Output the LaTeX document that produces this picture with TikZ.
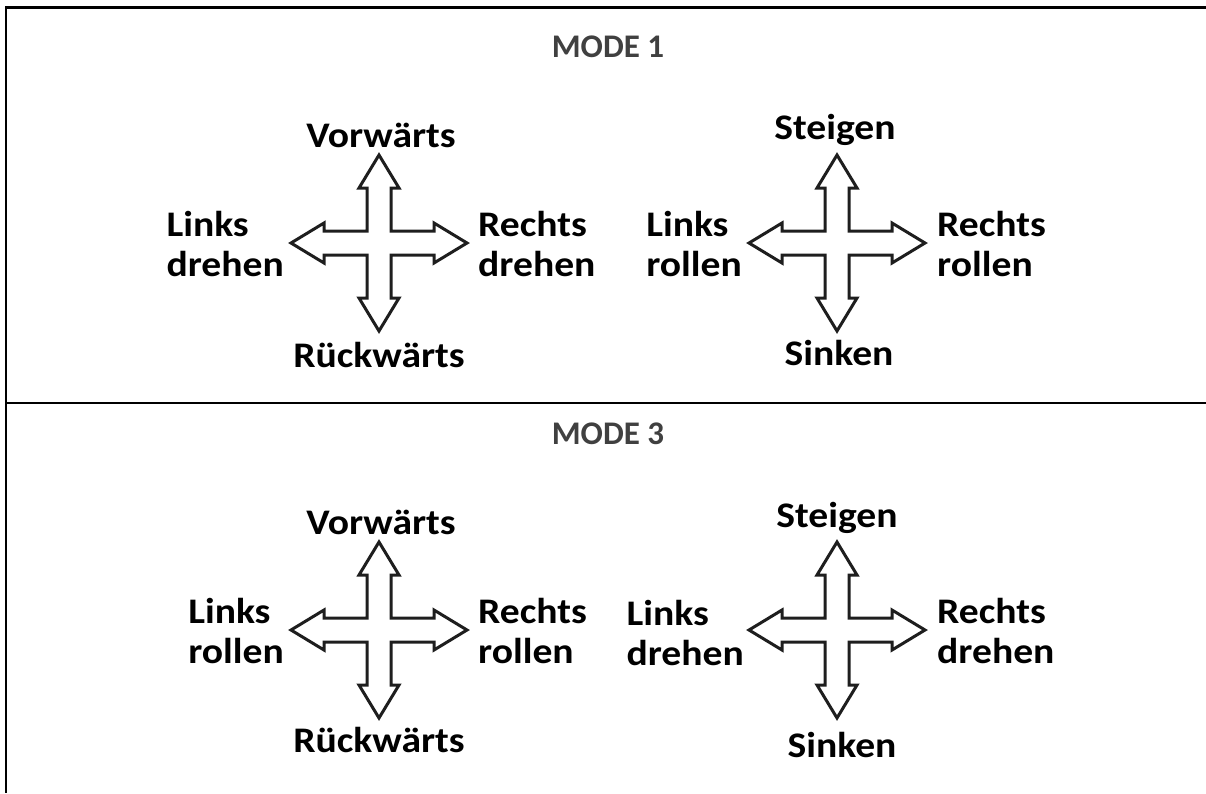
\documentclass[tikz,border=0pt]{standalone}
\usepackage{fontspec}
\setmainfont{Carlito}
\newfontfamily\labelfont[FakeStretch=1.1]{Carlito}
\usepackage{xcolor}

\definecolor{modegray}{HTML}{404040}
\definecolor{arrowink}{HTML}{1E1E1E}

\tikzset{
	frameline/.style={line width=2.2pt, black},
	modetitle/.style={inner sep=0pt, anchor=base, text=modegray, font=\fontsize{33}{38}\selectfont\bfseries},
	dirlabel/.style={inner sep=0pt, align=left, font=\labelfont\fontsize{36}{40}\selectfont\bfseries},
	crossarrow/.pic={
		\draw[line width=3pt, arrowink, line join=miter, fill=white]
			(0,-88) -- (20,-55) -- (12,-55) -- (12,-12) -- (55,-12) -- (55,-20) -- (88,0)
			-- (55,20) -- (55,12) -- (12,12) -- (12,55) -- (20,55) -- (0,88)
			-- (-20,55) -- (-12,55) -- (-12,12) -- (-55,12) -- (-55,20) -- (-88,0)
			-- (-55,-20) -- (-55,-12) -- (-12,-12) -- (-12,-55) -- (-20,-55) -- cycle;
	}
}

\begin{document}
\begin{tikzpicture}[x=1pt, y=-1pt]
			\useasboundingbox (0,0) rectangle (1206,793);
			
			\coordinate (frameTL) at (6,7.5);
			\coordinate (frameTR) at (1206,7.5);
			\coordinate (frameBL) at (6,793);
			\coordinate (splitL) at (6,403);
			\coordinate (splitR) at (1206,403);
			\draw[frameline] (frameTR) -- (frameTL) -- (frameBL);
			\draw[frameline] (splitL) -- (splitR);
			
			\node[modetitle] (mode1) at (608,57) {MODE 1};
			\node[modetitle] (mode3) at (608,444) {MODE 3};
			
			\coordinate (c1) at (379,243);
			\coordinate (c2) at (837,243);
			\coordinate (c3) at (379,630);
			\coordinate (c4) at (837,630);
			\pic at (c1) {crossarrow};
			\pic at (c2) {crossarrow};
			\pic at (c3) {crossarrow};
			\pic at (c4) {crossarrow};
			
			\node[dirlabel, anchor=base] (vorA) at (381,147) {Vorwärts};
			\node[dirlabel, anchor=base] (rueckA) at (379,367) {Rückwärts};
			\node[dirlabel, anchor=east] (linksA) at (284,244) {Links\\drehen};
			\node[dirlabel, anchor=west] (rechtsA) at (478,244) {Rechts\\drehen};
			
			\node[dirlabel, anchor=base] (steigB) at (835,139) {Steigen};
			\node[dirlabel, anchor=base] (sinkB) at (839,365) {Sinken};
			\node[dirlabel, anchor=east] (linksB) at (742,244) {Links\\rollen};
			\node[dirlabel, anchor=west] (rechtsB) at (937,244) {Rechts\\rollen};
			
			\node[dirlabel, anchor=base] (vorC) at (381,534) {Vorwärts};
			\node[dirlabel, anchor=base] (rueckC) at (379,752) {Rückwärts};
			\node[dirlabel, anchor=east] (linksC) at (284,631) {Links\\rollen};
			\node[dirlabel, anchor=west] (rechtsC) at (478,631) {Rechts\\rollen};
			
			\node[dirlabel, anchor=base] (steigD) at (837,527) {Steigen};
			\node[dirlabel, anchor=base] (sinkD) at (842,757) {Sinken};
			\node[dirlabel, anchor=east] (linksD) at (744,633) {Links\\drehen};
			\node[dirlabel, anchor=west] (rechtsD) at (937,631) {Rechts\\drehen};
		\end{tikzpicture}
\end{document}
